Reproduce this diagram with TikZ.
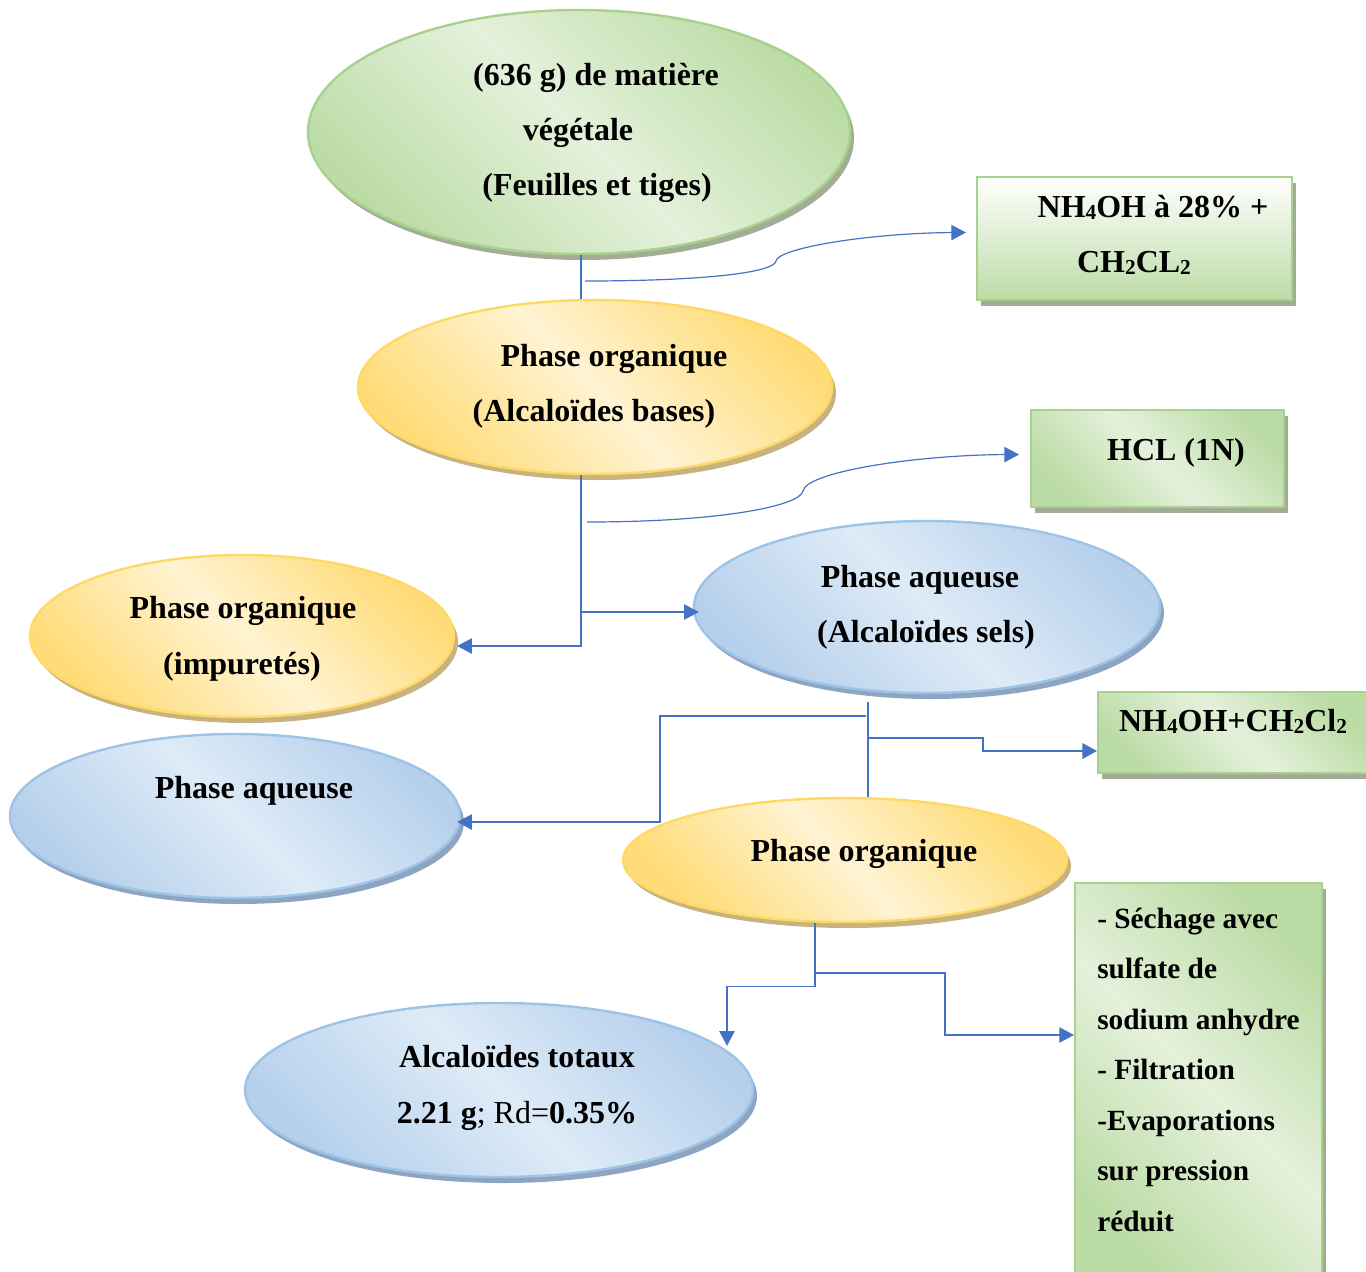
\documentclass[tikz,border=0pt]{standalone}
\usepackage{fontspec}
\setmainfont{Liberation Serif}
\usetikzlibrary{shapes.geometric,shadows,arrows.meta,calc}
\definecolor{lnblue}{HTML}{4472C4}
\definecolor{grBorder}{HTML}{A9D18E}
\definecolor{grDark}{HTML}{BCDCA6}
\definecolor{grLight}{HTML}{E4F1DB}
\definecolor{grShadow}{HTML}{A1AD94}
\definecolor{boxShadow}{HTML}{A3AB97}
\definecolor{yeBorder}{HTML}{FFD966}
\definecolor{yeDark}{HTML}{FFDC77}
\definecolor{yeLight}{HTML}{FFF3D2}
\definecolor{yeShadow}{HTML}{C7B280}
\definecolor{blBorder}{HTML}{9DC3E6}
\definecolor{blLight}{HTML}{DEEBF7}
\definecolor{blDark}{HTML}{B6D0EC}
\definecolor{blShadow}{HTML}{8EA5C1}
\newcommand\bigfont{\fontsize{24}{29}\selectfont\bfseries}
\newcommand\sidefont{\fontsize{22}{26}\selectfont\bfseries}
\newcommand\subsc[1]{\raisebox{-1.5pt}{\fontsize{16}{16}\selectfont\bfseries #1}}
\begin{document}
\begin{tikzpicture}[x=0.75pt,y=-0.75pt,
  shad/.style={drop shadow={shadow xshift=3pt,shadow yshift=-4.5pt,opacity=1,fill=#1}},
  diag/.style n args={2}{top color=#1,bottom color=#1,middle color=#2,shading angle=-45},
  ell/.style={ellipse,inner sep=0pt,line width=1.8pt},
  greenell/.style={ell,draw=grBorder,diag={grDark}{grLight},shad=grShadow},
  yellowell/.style={ell,draw=yeBorder,diag={yeDark}{yeLight},shad=yeShadow},
  blueell/.style={ell,draw=blBorder,diag={blDark}{blLight},shad=blShadow},
  box/.style={rectangle,inner sep=0pt,line width=1.5pt,draw=grBorder,shad=boxShadow},
  diagbox/.style={box,diag={grDark}{grLight}},
  tx/.style={font=\bigfont,anchor=base,inner sep=0pt},
  sx/.style={font=\sidefont,anchor=base west,inner sep=0pt},
  conn/.style={draw=lnblue,line width=0.9pt},
  arr/.style={conn,-{Triangle[length=11pt,width=11.5pt]}},
  arrthick/.style={arr,line width=1.9pt}]
\useasboundingbox (0,0) rectangle (1366,1271);
\clip (0,0) rectangle (1366,1271);

% ellipses
\node[greenell,minimum width=406.5pt,minimum height=183pt] (e1) at (579,132) {};
\node[yellowell,minimum width=355.5pt,minimum height=130.5pt] (e2) at (595,387) {};
\node[yellowell,minimum width=318pt,minimum height=121.5pt] (e3) at (242,636) {};
\node[blueell,minimum width=349.5pt,minimum height=129pt] (e4) at (927,607) {};
\node[blueell,minimum width=337.5pt,minimum height=123pt] (e5) at (235,816) {};
\node[yellowell,minimum width=333pt,minimum height=93pt] (e6) at (845,860) {};
\node[blueell,minimum width=381pt,minimum height=130.5pt] (e7) at (499,1090) {};

% boxes
\node[box,top color=white,bottom color=grDark,minimum width=236.25pt,minimum height=92.25pt] (bA) at (1134.5,238.5) {};
\node[diagbox,minimum width=189.75pt,minimum height=72.75pt] (bB) at (1157.5,458.5) {};
\node[diagbox,minimum width=204pt,minimum height=60.75pt] (bC) at (1234,732.5) {};
\node[diagbox,minimum width=185.25pt,minimum height=297.75pt] (bD) at (1198.5,1081.5) {};

% texts
\node[tx] (t1a) at (596,85) {(636 g) de matière};
\node[tx] (t1b) at (578,140) {végétale};
\node[tx] (t1c) at (597,195) {(Feuilles et tiges)};
\node[tx] (t2a) at (614,366) {Phase organique};
\node[tx] (t2b) at (594,421) {(Alcaloïdes bases)};
\node[tx] (t3a) at (243,618) {Phase organique};
\node[tx] (t3b) at (242,674) {(impuretés)};
\node[tx] (t4a) at (920,587) {Phase aqueuse};
\node[tx] (t4b) at (926,642) {(Alcaloïdes sels)};
\node[tx] (t5a) at (254,798) {Phase aqueuse};
\node[tx] (t6a) at (864,861) {Phase organique};
\node[tx] (t7a) at (517,1067) {Alcaloïdes totaux};
\node[tx] (t7b) at (517,1123) {2.21 g\mdseries; Rd=\bfseries0.35\%};
\node[tx] (tAa) at (1153,217) {NH\subsc{4}OH à 28\% +};
\node[tx] (tAb) at (1134,272) {CH\subsc{2}CL\subsc{2}};
\node[tx] (tBa) at (1176,460) {HCL (1N)};
\node[tx] (tCa) at (1233,731) {NH\subsc{4}OH+CH\subsc{2}Cl\subsc{2}};
\node[sx] (d1) at (1097,928) {- Séchage avec};
\node[sx] (d2) at (1097,978) {sulfate de};
\node[sx] (d3) at (1097,1029) {sodium anhydre};
\node[sx] (d4) at (1097,1079) {- Filtration};
\node[sx] (d5) at (1097,1130) {-Evaporations};
\node[sx] (d6) at (1097,1180) {sur pression};
\node[sx] (d7) at (1097,1231) {réduit};

% connectors
\draw[conn] ([xshift=1.5pt]e1.south) -- ([xshift=-10.5pt]e2.north);
\coordinate (k1) at (585,281);
\draw[arr] (k1) .. controls (700,281) and (774,273) .. (776,261)
  .. controls (778,248) and (870,233) .. ($(bA.west)+(-10,-6)$);

\draw[arr] ([xshift=-10.5pt]e2.south) |- ($(e3.east)+(2,10)$);
\coordinate (j2) at (581,612);
\draw[arr] (j2) -- ($(e4.west)+(6,5)$);
\coordinate (k2) at (587,522);
\draw[arr] (k2) .. controls (720,522) and (800,506) .. (803,491)
  .. controls (806,472) and (915,455) .. ($(bB.west)+(-11,-4)$);

\coordinate (m0) at (868,702);
\draw[conn] (m0) -- ($(e6.north)+(23,0)$);
\coordinate (m1) at (866,716);
\draw[arr] (m1) -- ++(-206,0) -- ++(0,106) -- ($(e5.east)+(-4,6)$);
\coordinate (m2) at (869,738);
\draw[arrthick] (m2) -- ++(114,0) -- ++(0,13) -- ($(bC.west)+(0,18.5)$);

\draw[arr] ($(e6.south)+(-30,0)$) -- ++(0,63) -- ++(-88,0) -- ($(e7.north)+(228,44)$);
\coordinate (j5) at (815,973);
\draw[arr] (j5) -- ++(130,0) -- ++(0,62) -- ($(bD.west)+(0,-46.5)$);
\end{tikzpicture}
\end{document}
